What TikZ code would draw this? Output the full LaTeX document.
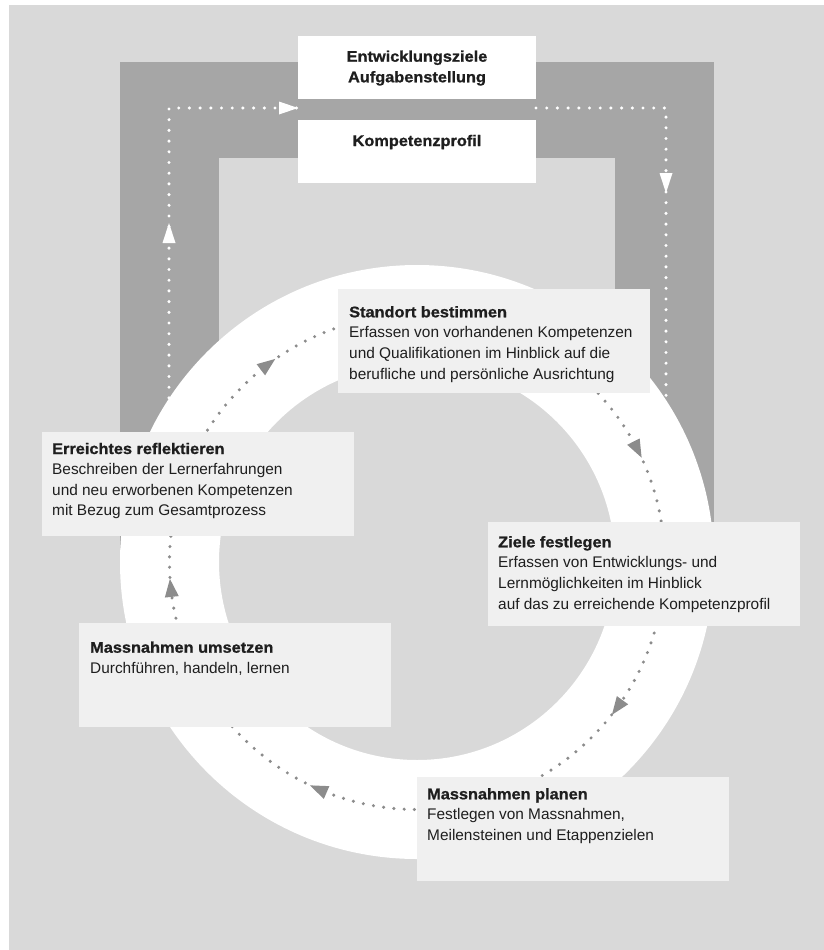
\documentclass[tikz,border=0pt]{standalone}
\usepackage{fontspec}
\setmainfont{Liberation Sans}
\newfontfamily\headfont[FakeStretch=1.06,FakeBold=1]{Liberation Sans Bold}
\usetikzlibrary{decorations.markings}
\definecolor{bggrey}{HTML}{D9D9D9}
\definecolor{ugrey}{HTML}{A6A6A6}
\definecolor{boxgrey}{HTML}{F0F0F0}
\definecolor{dotgrey}{HTML}{8C8C8C}
\definecolor{txtcol}{HTML}{1E1E1E}
\newcommand\stepvtop[2]{\vtop{\baselineskip=20.6pt\lineskiplimit=-30pt\hbox{\headfont #1}#2}}
\newcommand\bodyline[1]{\hbox{#1}}
\newcommand\ctrline[1]{\hbox to 240pt{\hfil #1\hfil}}
\tikzset{
  whitedots/.style={draw=white, line width=3.4pt, line cap=round, dash pattern=on 0pt off 10.7pt},
  ringdots/.style={draw=dotgrey, line width=3.4pt, line cap=round, dash pattern=on 0pt off 10.3pt},
  stepbox/.style={fill=boxgrey, draw=none, anchor=north west, minimum width=312pt, minimum height=104pt, inner sep=0pt, outer sep=0pt},
  topbox/.style={fill=white, draw=none, anchor=north west, minimum width=238pt, minimum height=63pt, inner sep=0pt, outer sep=0pt},
  steptext/.style={anchor=base west, inner sep=0pt, text=txtcol, font=\fontsize{15.4pt}{20.6pt}\selectfont},
  toptext/.style={anchor=base, inner sep=0pt, text=txtcol, font=\fontsize{15.4pt}{20.6pt}\selectfont},
  ringarrow/.style={postaction={decorate}, decoration={markings, mark=at position 0.5 with {\fill[dotgrey] (9pt,0pt) -- (-9pt,7pt) -- (-9pt,-7pt) -- cycle;}}}
}
\begin{document}
\begin{tikzpicture}[x=1pt,y=1pt]
\useasboundingbox (0,0) rectangle (824,-950);
\fill[bggrey] (9,-5) rectangle (824,-950);
% inverted U
\fill[ugrey] (120,-62) rectangle (714,-548);
\fill[bggrey] (219,-158) rectangle (615,-548);
% white dotted loop
\coordinate (lstart) at (169,-430);
\coordinate (lcorner) at (169,-108);
\coordinate (gapL) at (298,-108);
\coordinate (gapR) at (536,-108);
\coordinate (rcorner) at (666,-108);
\coordinate (rend) at (666,-430);
\draw[whitedots] (lstart) -- (lcorner) -- (gapL);
\draw[whitedots] (gapR) -- (rcorner) -- (rend);
\fill[white] (169,-223) -- (162.5,-243) -- (175.5,-243) -- cycle;
\fill[white] (gapL) -- (279,-101.5) -- (279,-114.5) -- cycle;
\fill[white] (666,-193) -- (659.5,-173) -- (672.5,-173) -- cycle;
% ring
\coordinate (C) at (417,-562);
\fill[white, even odd rule] (C) circle[radius=297] (C) circle[radius=198];
\draw[ringdots] (C) circle[radius=247.5];
\foreach \a in {127,27,-36,-113.5,186}{
  \path[ringarrow] (C) ++(\a+5:247.5) arc[start angle=\a+5, end angle=\a-5, radius=247.5];
}
% top boxes
\node[topbox] (entw) at (298,-36) {};
\node[topbox] (kompetenz) at (298,-120) {};
\node[toptext] at (417,-61.7) {\vtop{\baselineskip=20.6pt\ctrline{\headfont Entwicklungsziele}\ctrline{\headfont Aufgabenstellung}}};
\node[toptext] at (417,-146) {\headfont Kompetenzprofil};
% step boxes
\node[stepbox] (standort) at (338,-289) {};
\node[stepbox] (reflekt) at (42,-432) {};
\node[stepbox] (ziele) at (488,-522) {};
\node[stepbox] (umsetzen) at (79,-623) {};
\node[stepbox] (planen) at (417,-777) {};
\node[steptext] at (349,-317.3) {\stepvtop{Standort bestimmen}{\bodyline{Erfassen von vorhandenen Kompetenzen}\bodyline{und Qualifikationen im Hinblick auf die}\bodyline{berufliche und persönliche Ausrichtung}}};
\node[steptext] at (52,-454) {\stepvtop{Erreichtes reflektieren}{\bodyline{Beschreiben der Lernerfahrungen}\bodyline{und neu erworbenen Kompetenzen}\bodyline{mit Bezug zum Gesamtprozess}}};
\node[steptext] at (498,-547.3) {\stepvtop{Ziele festlegen}{\bodyline{Erfassen von Entwicklungs- und}\bodyline{Lernmöglichkeiten im Hinblick}\bodyline{auf das zu erreichende Kompetenzprofil}}};
\node[steptext] at (90,-652.7) {\stepvtop{Massnahmen umsetzen}{\bodyline{Durchführen, handeln, lernen}}};
\node[steptext] at (427,-799.3) {\stepvtop{Massnahmen planen}{\bodyline{Festlegen von Massnahmen,}\bodyline{Meilensteinen und Etappenzielen}}};
\end{tikzpicture}
\end{document}
